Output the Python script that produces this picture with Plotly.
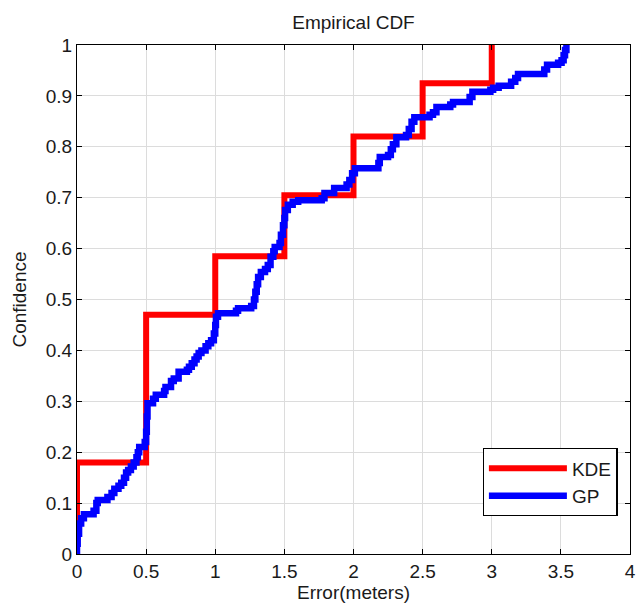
import plotly.graph_objects as go

# KDE empirical CDF (step corners: value reached at each x)
kde_x = [0.0, 0.0, 0.5, 1.0, 1.5, 2.0, 2.5, 3.0]
kde_y = [0.0, 0.18, 0.47, 0.585, 0.705, 0.82, 0.925, 1.0]

# GP empirical CDF (step corners)
gp_x = [0.0, 0.0, 0.005, 0.015, 0.03, 0.05, 0.12, 0.14, 0.15, 0.22, 0.25, 0.27, 0.30, 0.32,
        0.34, 0.355, 0.37, 0.39, 0.41, 0.43, 0.44, 0.45, 0.49, 0.50, 0.505, 0.51, 0.55,
        0.57, 0.63, 0.64, 0.68, 0.70, 0.735, 0.795, 0.81, 0.83, 0.85, 0.865, 0.88, 0.90,
        0.93, 0.95, 0.97, 0.99, 1.0, 1.005, 1.02, 1.15, 1.165, 1.26, 1.28, 1.29, 1.30,
        1.31, 1.33, 1.36, 1.38, 1.40, 1.42, 1.43, 1.465, 1.475, 1.49, 1.50, 1.505, 1.525,
        1.56, 1.60, 1.77, 1.79, 1.86, 1.95, 1.97, 1.99, 2.01, 2.18, 2.19, 2.25, 2.27,
        2.285, 2.31, 2.38, 2.40, 2.42, 2.44, 2.55, 2.575, 2.60, 2.70, 2.72, 2.84, 2.86,
        2.99, 3.01, 3.05, 3.14, 3.17, 3.19, 3.38, 3.40, 3.48, 3.505, 3.52, 3.53, 3.54]
gp_y = [0.0, 0.02, 0.04, 0.06, 0.07, 0.078, 0.085, 0.10, 0.106, 0.112, 0.12, 0.128, 0.134, 0.14,
        0.15, 0.16, 0.165, 0.172, 0.18, 0.19, 0.20, 0.21, 0.22, 0.24, 0.27, 0.296, 0.305,
        0.313, 0.32, 0.328, 0.34, 0.345, 0.358, 0.362, 0.368, 0.375, 0.382, 0.388, 0.395, 0.40,
        0.408, 0.414, 0.42, 0.433, 0.45, 0.466, 0.473, 0.478, 0.483, 0.487, 0.50, 0.515, 0.53,
        0.544, 0.554, 0.56, 0.568, 0.584, 0.595, 0.603, 0.611, 0.627, 0.646, 0.66, 0.676, 0.686,
        0.692, 0.695, 0.699, 0.709, 0.719, 0.726, 0.735, 0.748, 0.758, 0.768, 0.78, 0.784, 0.795,
        0.805, 0.819, 0.823, 0.835, 0.849, 0.858, 0.863, 0.868, 0.878, 0.883, 0.888, 0.898, 0.908,
        0.912, 0.916, 0.92, 0.928, 0.935, 0.943, 0.952, 0.961, 0.965, 0.97, 0.98, 0.99, 1.0]

x_ticks = [0, 0.5, 1, 1.5, 2, 2.5, 3, 3.5, 4]
x_tick_labels = ["0", "0.5", "1", "1.5", "2", "2.5", "3", "3.5", "4"]
y_ticks = [0, 0.1, 0.2, 0.3, 0.4, 0.5, 0.6, 0.7, 0.8, 0.9, 1.0]
y_tick_labels = ["0", "0.1", "0.2", "0.3", "0.4", "0.5", "0.6", "0.7", "0.8", "0.9", "1"]

FONT = "Liberation Sans, Arial, sans-serif"
FS = 19

fig = go.Figure()
fig.add_trace(go.Scatter(x=kde_x, y=kde_y, mode="lines", name="KDE",
                         line=dict(color="#ff0000", width=6, shape="hv")))
fig.add_trace(go.Scatter(x=gp_x, y=gp_y, mode="lines", name="GP",
                         line=dict(color="#0000ff", width=6.5, shape="hv")))

axis_common = dict(
    showline=True, linecolor="black", linewidth=1.3, mirror="ticks",
    ticks="inside", ticklen=5, tickwidth=1.3, tickcolor="black",
    showgrid=True, gridcolor="#dcdcdc", gridwidth=1, zeroline=False,
    tickfont=dict(family=FONT, size=FS, color="#1a1a1a"),
)

fig.update_layout(
    width=644, height=612,
    margin=dict(l=77, r=8, t=45, b=58),
    paper_bgcolor="white", plot_bgcolor="white",
    font=dict(family=FONT, size=FS, color="#1a1a1a"),
    title=dict(text="Empirical CDF", x=0.5, xref="paper", y=1 - 22 / 612,
               yref="container", xanchor="center", yanchor="middle",
               font=dict(family=FONT, size=FS, color="#1a1a1a")),
    xaxis=dict(range=[0, 4], tickvals=x_ticks, ticktext=x_tick_labels,
               title=dict(text="Error(meters)", standoff=4,
                          font=dict(family=FONT, size=FS, color="#1a1a1a")),
               **axis_common),
    yaxis=dict(range=[0, 1], tickvals=y_ticks, ticktext=y_tick_labels,
               title=dict(text="Confidence", standoff=13,
                          font=dict(family=FONT, size=FS, color="#1a1a1a")),
               **axis_common),
    legend=dict(x=(487 - 77) / (636 - 77), y=(554 - 448) / (554 - 45),
                xref="paper", yref="paper", xanchor="left", yanchor="top",
                bgcolor="white", bordercolor="black", borderwidth=1.3,
                font=dict(family=FONT, size=FS, color="#1a1a1a"),
                itemwidth=78, tracegroupgap=0),
    showlegend=True,
)

fig.write_html("out.html")
